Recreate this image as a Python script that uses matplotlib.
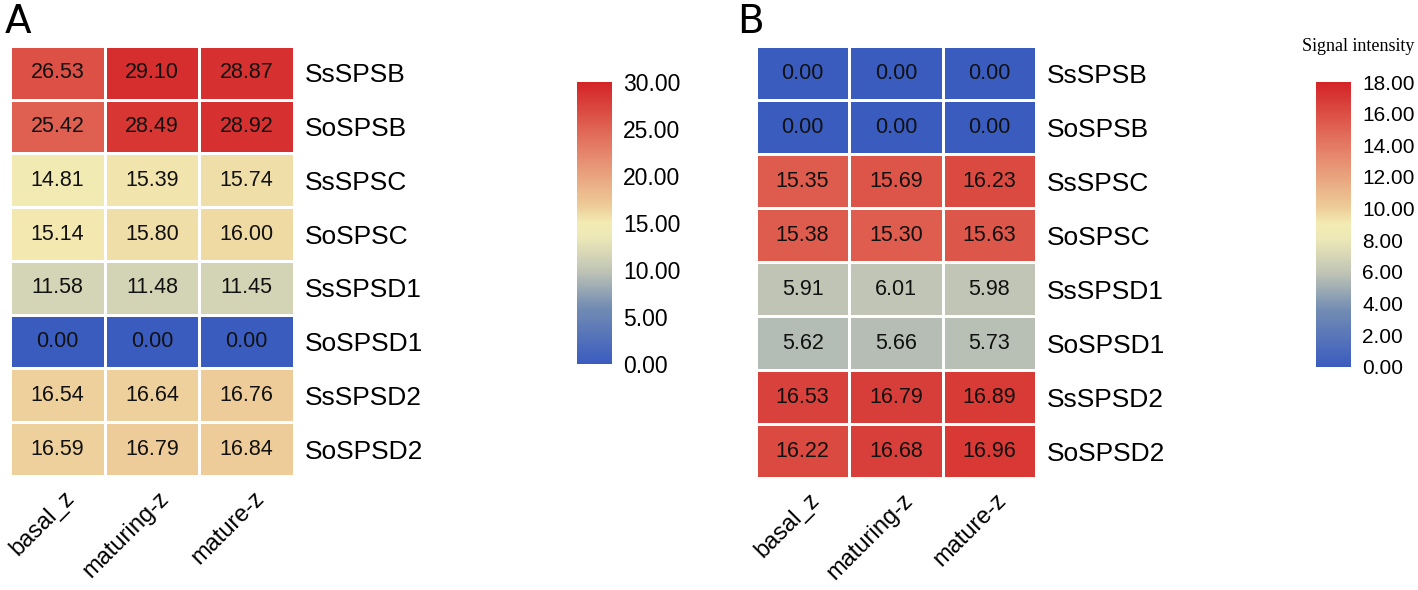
import numpy as np
import matplotlib
matplotlib.use("Agg")
import matplotlib.pyplot as plt
from matplotlib.colors import LinearSegmentedColormap
from matplotlib.transforms import ScaledTranslation

plt.rcParams['font.family'] = ['Liberation Sans', 'DejaVu Sans']

genes = ["SsSPSB", "SoSPSB", "SsSPSC", "SoSPSC", "SsSPSD1", "SoSPSD1", "SsSPSD2", "SoSPSD2"]
stages = ["basal_z", "maturing-z", "mature-z"]

# panel A values
vals_a = [
    [26.53, 29.10, 28.87],
    [25.42, 28.49, 28.92],
    [14.81, 15.39, 15.74],
    [15.14, 15.80, 16.00],
    [11.58, 11.48, 11.45],
    [0.00, 0.00, 0.00],
    [16.54, 16.64, 16.76],
    [16.59, 16.79, 16.84],
]
# panel B values
vals_b = [
    [0.00, 0.00, 0.00],
    [0.00, 0.00, 0.00],
    [15.35, 15.69, 16.23],
    [15.38, 15.30, 15.63],
    [5.91, 6.01, 5.98],
    [5.62, 5.66, 5.73],
    [16.53, 16.79, 16.89],
    [16.22, 16.68, 16.96],
]

cmap = LinearSegmentedColormap.from_list("sig", [
    (0.00, (0.23, 0.36, 0.75)),
    (0.20, (0.45, 0.55, 0.70)),
    (0.33, (0.75, 0.77, 0.71)),
    (0.45, (0.93, 0.91, 0.72)),
    (0.50, (0.95, 0.92, 0.70)),
    (0.56, (0.93, 0.80, 0.60)),
    (0.75, (0.90, 0.52, 0.42)),
    (1.00, (0.83, 0.14, 0.15)),
])

fig = plt.figure(figsize=(14.18, 5.90), dpi=100)


def heat(rect, data, vmax, cbrect, ticks, cbfs, title=None):
    ax = fig.add_axes(rect)
    data = np.array(data)
    m = ax.pcolormesh(data, cmap=cmap, vmin=0, vmax=vmax,
                      edgecolors="white", linewidth=1.0)
    ax.set_xlim(0, data.shape[1])
    ax.set_ylim(data.shape[0], 0)
    for i in range(data.shape[0]):
        for j in range(data.shape[1]):
            ax.text(j + 0.5, i + 0.5, "%.2f" % data[i, j], ha="center",
                    va="center", fontsize=15.5, color="#111111")
    ax.yaxis.tick_right()
    ax.set_yticks(np.arange(len(genes)) + 0.5)
    ax.set_yticklabels(genes, fontsize=19)
    ax.set_xticks(np.arange(len(stages)) + 0.5)
    ax.set_xticklabels(stages, fontsize=17, rotation=45, ha="right",
                       rotation_mode="anchor")
    ax.tick_params(length=0, pad=8)
    shift = ScaledTranslation(0.06, 0, fig.dpi_scale_trans)
    for lab in ax.get_xticklabels():
        lab.set_transform(lab.get_transform() + shift)
    for s in ax.spines.values():
        s.set_visible(False)

    cax = fig.add_axes(cbrect)
    cb = fig.colorbar(m, cax=cax, ticks=ticks)
    cb.outline.set_visible(False)
    cb.ax.set_yticklabels(["%.2f" % t for t in ticks], fontsize=cbfs)
    cb.ax.tick_params(length=0, pad=8)
    if title:
        cb.ax.set_title(title, fontsize=13, family="Liberation Serif",
                        pad=22, x=1.2)
    return ax


heat([0.00705, 0.1932, 0.2003, 0.729], vals_a, 30,
     [0.4069, 0.383, 0.0247, 0.478], [0, 5, 10, 15, 20, 25, 30], 16.5)
heat([0.5331, 0.1898, 0.1975, 0.732], vals_b, 18,
     [0.928, 0.378, 0.0247, 0.483], [0, 2, 4, 6, 8, 10, 12, 14, 16, 18], 15,
     title="Signal intensity")

fig.text(0.003, 0.995, "A", fontsize=28, va="top", family="DejaVu Sans")
fig.text(0.520, 0.995, "B", fontsize=28, va="top", family="DejaVu Sans")

fig.savefig("out.png", dpi=100)
